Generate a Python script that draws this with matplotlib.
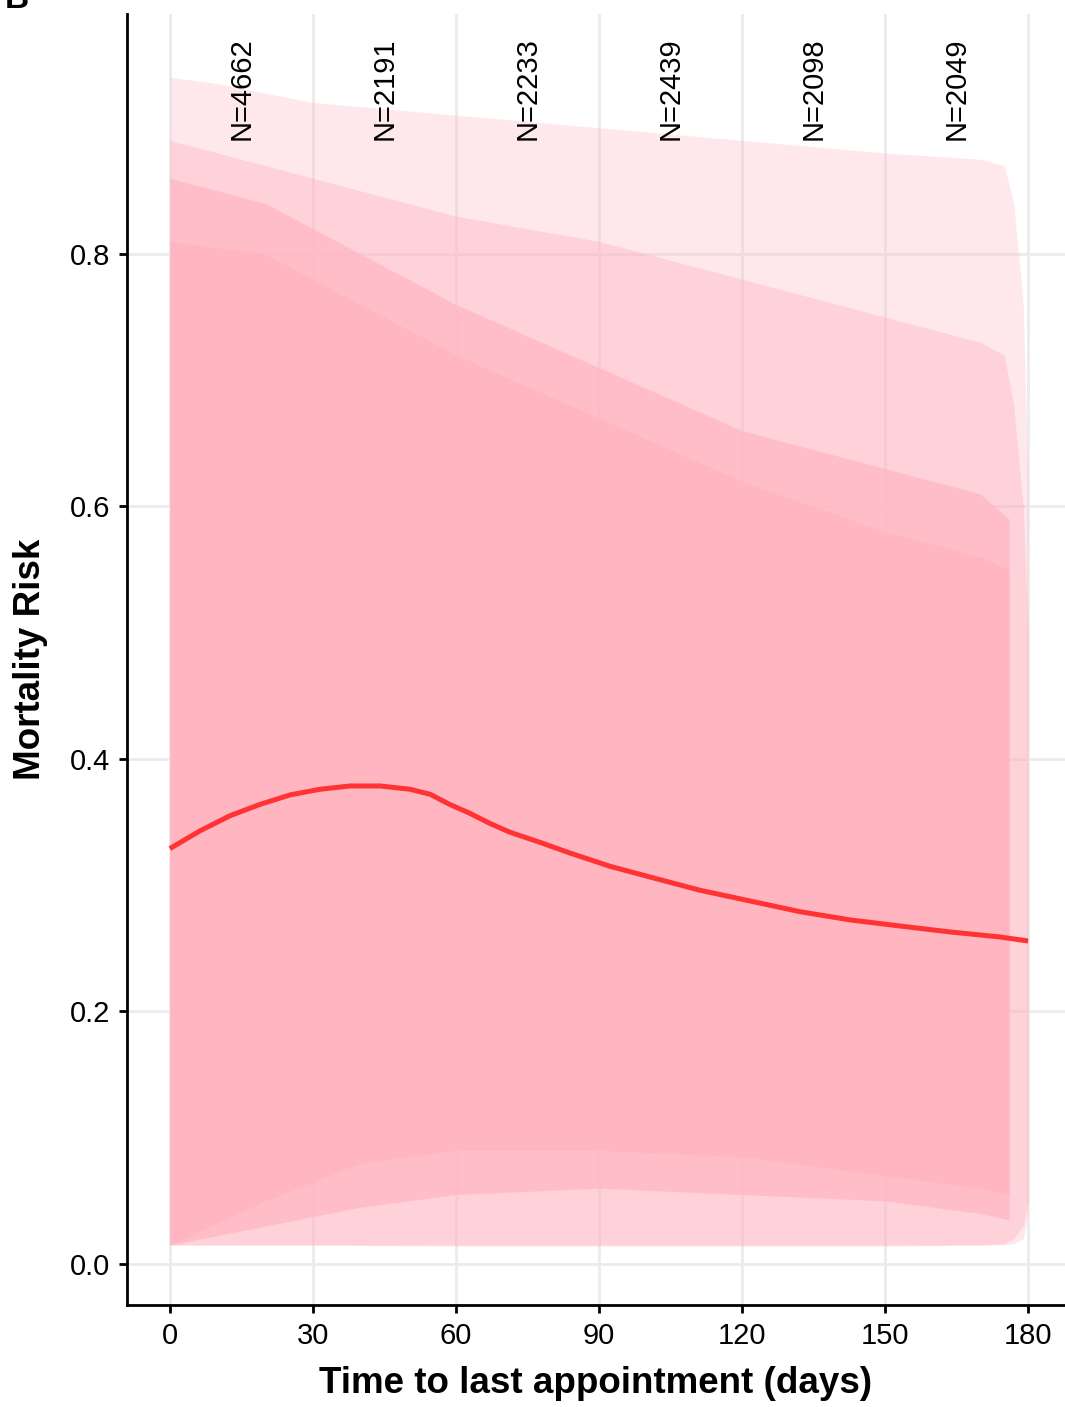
import numpy as np
import matplotlib
matplotlib.use("Agg")
import matplotlib.pyplot as plt

plt.rcParams["font.family"] = ["Liberation Sans", "DejaVu Sans"]

# envelopes of the individual patient trajectories
env_days = [0, 10, 30, 60, 90, 120, 150, 170, 175, 177, 179, 180]
outer_top = [0.94, 0.935, 0.92, 0.91, 0.90, 0.89, 0.88, 0.875, 0.87, 0.84, 0.76, 0.62]
outer_bot = [0.015, 0.015, 0.015, 0.014, 0.014, 0.014, 0.014, 0.015, 0.015, 0.016, 0.02, 0.04]
mid_top = [0.89, 0.88, 0.86, 0.83, 0.81, 0.78, 0.75, 0.73, 0.72, 0.68, 0.60, 0.50]
mid_bot = [0.015, 0.015, 0.015, 0.015, 0.015, 0.015, 0.015, 0.015, 0.016, 0.02, 0.03, 0.05]

inner_days = [0, 20, 40, 60, 90, 120, 150, 170, 176]
inner_top = [0.86, 0.84, 0.80, 0.76, 0.71, 0.66, 0.63, 0.61, 0.59]
inner_bot = [0.015, 0.03, 0.045, 0.055, 0.06, 0.055, 0.05, 0.04, 0.035]

core_days = [0, 20, 40, 60, 90, 120, 150, 170, 176]
core_top = [0.81, 0.80, 0.76, 0.72, 0.67, 0.62, 0.58, 0.56, 0.55]
core_bot = [0.015, 0.05, 0.08, 0.09, 0.09, 0.085, 0.07, 0.06, 0.055]

# smoothed mean curve
mean_days = [0, 6.3, 12.6, 18.9, 25.2, 31.5, 37.8, 44.1, 50.4, 54.6, 58.7, 62.9,
             67.1, 71.3, 77.6, 83.9, 92.3, 100.7, 111.2, 121.7, 132.2, 142.7,
             153.1, 163.6, 174.1, 180]
mean_risk = [0.329, 0.343, 0.355, 0.364, 0.3715, 0.376, 0.3786, 0.3786, 0.376,
             0.372, 0.364, 0.357, 0.349, 0.342, 0.334, 0.3255, 0.315, 0.3065,
             0.296, 0.2875, 0.279, 0.2725, 0.2677, 0.263, 0.259, 0.2558]

label_days = [15, 45, 75, 105, 135, 165]
label_n = [4662, 2191, 2233, 2439, 2098, 2049]

x_ticks = [0, 30, 60, 90, 120, 150, 180]
y_ticks = [0.0, 0.2, 0.4, 0.6, 0.8]

pink = "#FFB6C1"

fig = plt.figure(figsize=(10.65, 14.07), dpi=100)
ax = fig.add_axes([0.1192, 0.0725, 0.8808, 0.9175])

ax.fill_between(env_days, outer_bot, outer_top, color=pink, alpha=0.3, lw=0, zorder=2)
ax.fill_between(env_days, mid_bot, mid_top, color=pink, alpha=0.45, lw=0, zorder=3)
ax.fill_between(inner_days, inner_bot, inner_top, color=pink, alpha=0.7, lw=0, zorder=4)
ax.fill_between(core_days, core_bot, core_top, color=pink, alpha=1.0, lw=0, zorder=5)

ax.plot(mean_days, mean_risk, color="#FF3333", lw=3.6, zorder=6, solid_capstyle="butt")

for d, n in zip(label_days, label_n):
    ax.text(d, 0.89, "N=%d" % n, rotation=90, ha="center", va="bottom",
            fontsize=21, zorder=7)

ax.set_xlim(-9.0, 187.75)
ax.set_ylim(-0.0325, 0.99)
ax.set_xticks(x_ticks)
ax.set_yticks(y_ticks)
ax.set_xticklabels([str(t) for t in x_ticks])
ax.set_yticklabels(["%.1f" % t for t in y_ticks])

ax.grid(True, color="#EBEBEB", lw=2.0, zorder=0)
ax.set_axisbelow(True)

for s in ["top", "right"]:
    ax.spines[s].set_visible(False)
for s in ["left", "bottom"]:
    ax.spines[s].set_linewidth(2.0)
ax.tick_params(axis="both", length=6, width=2, labelsize=21, pad=6)

ax.set_xlabel("Time to last appointment (days)", fontsize=26.5, fontweight="bold", labelpad=12)
ax.set_ylabel("Mortality Risk", fontsize=26.5, fontweight="bold", labelpad=16)

fig.text(0.004, 1.0, "B", fontsize=24, fontweight="bold", va="center", ha="left")

fig.savefig("out.png", dpi=100)
